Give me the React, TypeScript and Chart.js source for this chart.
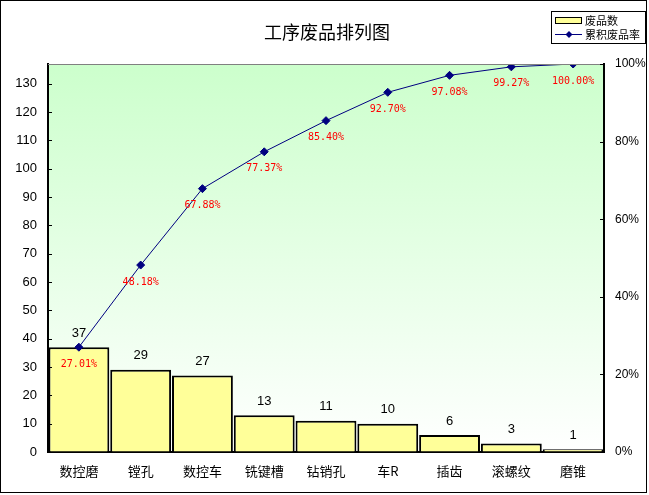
import React, { useEffect, useRef } from "react";
import { Chart, registerables } from "chart.js";

Chart.register(...registerables);

const categories = ["数控磨", "镗孔", "数控车", "铣键槽", "钻销孔", "车R", "插齿", "滚螺纹", "磨锥"];
const counts = [37, 29, 27, 13, 11, 10, 6, 3, 1];
const cumulativePct = [27.01, 48.18, 67.88, 77.37, 85.4, 92.7, 97.08, 99.27, 100.0];
const leftMax = 137;
const leftStep = 10;
const rightStep = 20;
const title = "工序废品排列图";
const legendLabels = ["废品数", "累积废品率"];

const CJK = '"Noto Sans CJK SC", "Noto Sans", sans-serif';
const SANS = '"Liberation Sans", Arial, sans-serif';
const MONO = '"DejaVu Sans Mono", "Liberation Mono", monospace';
const BAR_FILL = "#ffff99";
const LINE_COLOR = "#000080";

const decorPlugin = {
  id: "decor",
  beforeDraw(chart: any) {
    const { ctx, chartArea, width, height } = chart;
    ctx.save();
    ctx.fillStyle = "#ffffff";
    ctx.fillRect(0, 0, width, height);
    const g = ctx.createLinearGradient(0, chartArea.top, 0, chartArea.bottom);
    g.addColorStop(0, "#ccffcc");
    g.addColorStop(1, "#ffffff");
    ctx.fillStyle = g;
    ctx.fillRect(chartArea.left, chartArea.top, chartArea.right - chartArea.left, chartArea.bottom - chartArea.top);
    ctx.restore();
  },
  afterDraw(chart: any) {
    const { ctx, chartArea } = chart;
    ctx.save();
    // top grey border of plot area
    ctx.strokeStyle = "#808080";
    ctx.lineWidth = 1;
    ctx.beginPath();
    ctx.moveTo(chartArea.left, Math.round(chartArea.top) + 0.5);
    ctx.lineTo(chartArea.right, Math.round(chartArea.top) + 0.5);
    ctx.stroke();

    // inward ticks
    ctx.strokeStyle = "#000000";
    const ys = chart.scales.y;
    ys.ticks.forEach((t: any) => {
      const py = Math.round(ys.getPixelForValue(t.value)) + 0.5;
      ctx.beginPath();
      ctx.moveTo(chartArea.left, py);
      ctx.lineTo(chartArea.left + 4, py);
      ctx.stroke();
    });
    const y1 = chart.scales.y1;
    y1.ticks.forEach((t: any) => {
      const py = Math.round(y1.getPixelForValue(t.value)) + 0.5;
      ctx.beginPath();
      ctx.moveTo(chartArea.right - 4, py);
      ctx.lineTo(chartArea.right, py);
      ctx.stroke();
    });

    // bar value labels
    const barMeta = chart.getDatasetMeta(0);
    ctx.fillStyle = "#000000";
    ctx.font = `13px ${SANS}`;
    ctx.textAlign = "center";
    ctx.textBaseline = "middle";
    barMeta.data.forEach((el: any, i: number) => {
      ctx.fillText(String(counts[i]), el.x, el.y - 14);
    });

    // cumulative % labels
    const lineMeta = chart.getDatasetMeta(1);
    ctx.fillStyle = "#ff0000";
    ctx.font = `10px ${MONO}`;
    lineMeta.data.forEach((el: any, i: number) => {
      ctx.fillText(cumulativePct[i].toFixed(2) + "%", el.x, el.y + 17);
    });

    // title
    ctx.fillStyle = "#000000";
    ctx.font = `18px ${CJK}`;
    ctx.fillText(title, (chartArea.left + chartArea.right) / 2 + 1, 32);

    // legend
    ctx.strokeStyle = "#000000";
    ctx.lineWidth = 1;
    ctx.fillStyle = "#ffffff";
    ctx.fillRect(551.5, 11.5, 94, 32);
    ctx.strokeRect(551.5, 11.5, 94, 32);
    ctx.fillStyle = BAR_FILL;
    ctx.fillRect(555.5, 17.5, 26, 6);
    ctx.strokeRect(555.5, 17.5, 26, 6);
    ctx.strokeStyle = LINE_COLOR;
    ctx.beginPath();
    ctx.moveTo(555, 34.5);
    ctx.lineTo(582, 34.5);
    ctx.stroke();
    ctx.fillStyle = LINE_COLOR;
    ctx.beginPath();
    ctx.moveTo(569, 31);
    ctx.lineTo(572.5, 34.5);
    ctx.lineTo(569, 38);
    ctx.lineTo(565.5, 34.5);
    ctx.closePath();
    ctx.fill();
    ctx.fillStyle = "#000000";
    ctx.font = `11px ${CJK}`;
    ctx.textAlign = "left";
    ctx.fillText(legendLabels[0], 585, 20.5);
    ctx.fillText(legendLabels[1], 585, 35);

    // outer border
    ctx.strokeStyle = "#000000";
    ctx.strokeRect(0.5, 0.5, 646, 492);
    ctx.restore();
  },
};

export default function App() {
  const ref = useRef<HTMLCanvasElement | null>(null);
  useEffect(() => {
    document.body.style.margin = "0";
    if (!ref.current) return;
    const chart = new Chart(ref.current, {
      type: "bar",
      data: {
        labels: categories,
        datasets: [
          {
            type: "bar",
            label: legendLabels[0],
            data: counts,
            backgroundColor: BAR_FILL,
            borderColor: "#000000",
            borderWidth: 2,
            barPercentage: 0.985,
            categoryPercentage: 1,
            yAxisID: "y",
            order: 2,
          },
          {
            type: "line",
            label: legendLabels[1],
            data: cumulativePct,
            borderColor: LINE_COLOR,
            borderWidth: 1,
            backgroundColor: LINE_COLOR,
            pointStyle: "rectRot",
            pointRadius: 4,
            pointBorderColor: LINE_COLOR,
            pointBackgroundColor: LINE_COLOR,
            tension: 0,
            yAxisID: "y1",
            order: 1,
          } as any,
        ],
      },
      options: {
        responsive: false,
        animation: false,
        devicePixelRatio: 1,
        layout: { padding: { top: 64, left: 0, right: 0, bottom: 0 } },
        plugins: {
          legend: { display: false },
          title: { display: false },
          tooltip: { enabled: false },
        },
        scales: {
          x: {
            offset: true,
            grid: { drawOnChartArea: false, drawTicks: false },
            border: { color: "#000000", width: 2 },
            ticks: { color: "#000000", font: { family: CJK, size: 13 }, padding: 11, maxRotation: 0, autoSkip: false },
            afterFit: (s: any) => { s.height = 43; },
          },
          y: {
            position: "left",
            min: 0,
            max: leftMax,
            grid: { drawOnChartArea: false, drawTicks: false },
            border: { color: "#000000", width: 2 },
            ticks: { stepSize: leftStep, includeBounds: false, color: "#000000", font: { family: SANS, size: 13 }, padding: 11 },
            afterFit: (s: any) => { s.width = 48; },
          },
          y1: {
            position: "right",
            min: 0,
            max: 100,
            grid: { drawOnChartArea: false, drawTicks: false },
            border: { color: "#000000", width: 2 },
            ticks: { stepSize: rightStep, color: "#000000", font: { family: SANS, size: 12 }, padding: 11, callback: (v: any) => v + "%" },
            afterFit: (s: any) => { s.width = 45; },
          },
        },
      } as any,
      plugins: [decorPlugin],
    });
    return () => chart.destroy();
  }, []);
  return (
    <div style={{ position: "fixed", left: 0, top: 0, width: 649, height: 495 }}>
      <canvas ref={ref} width={649} height={495} style={{ width: 649, height: 495, display: "block" }} />
    </div>
  );
}
